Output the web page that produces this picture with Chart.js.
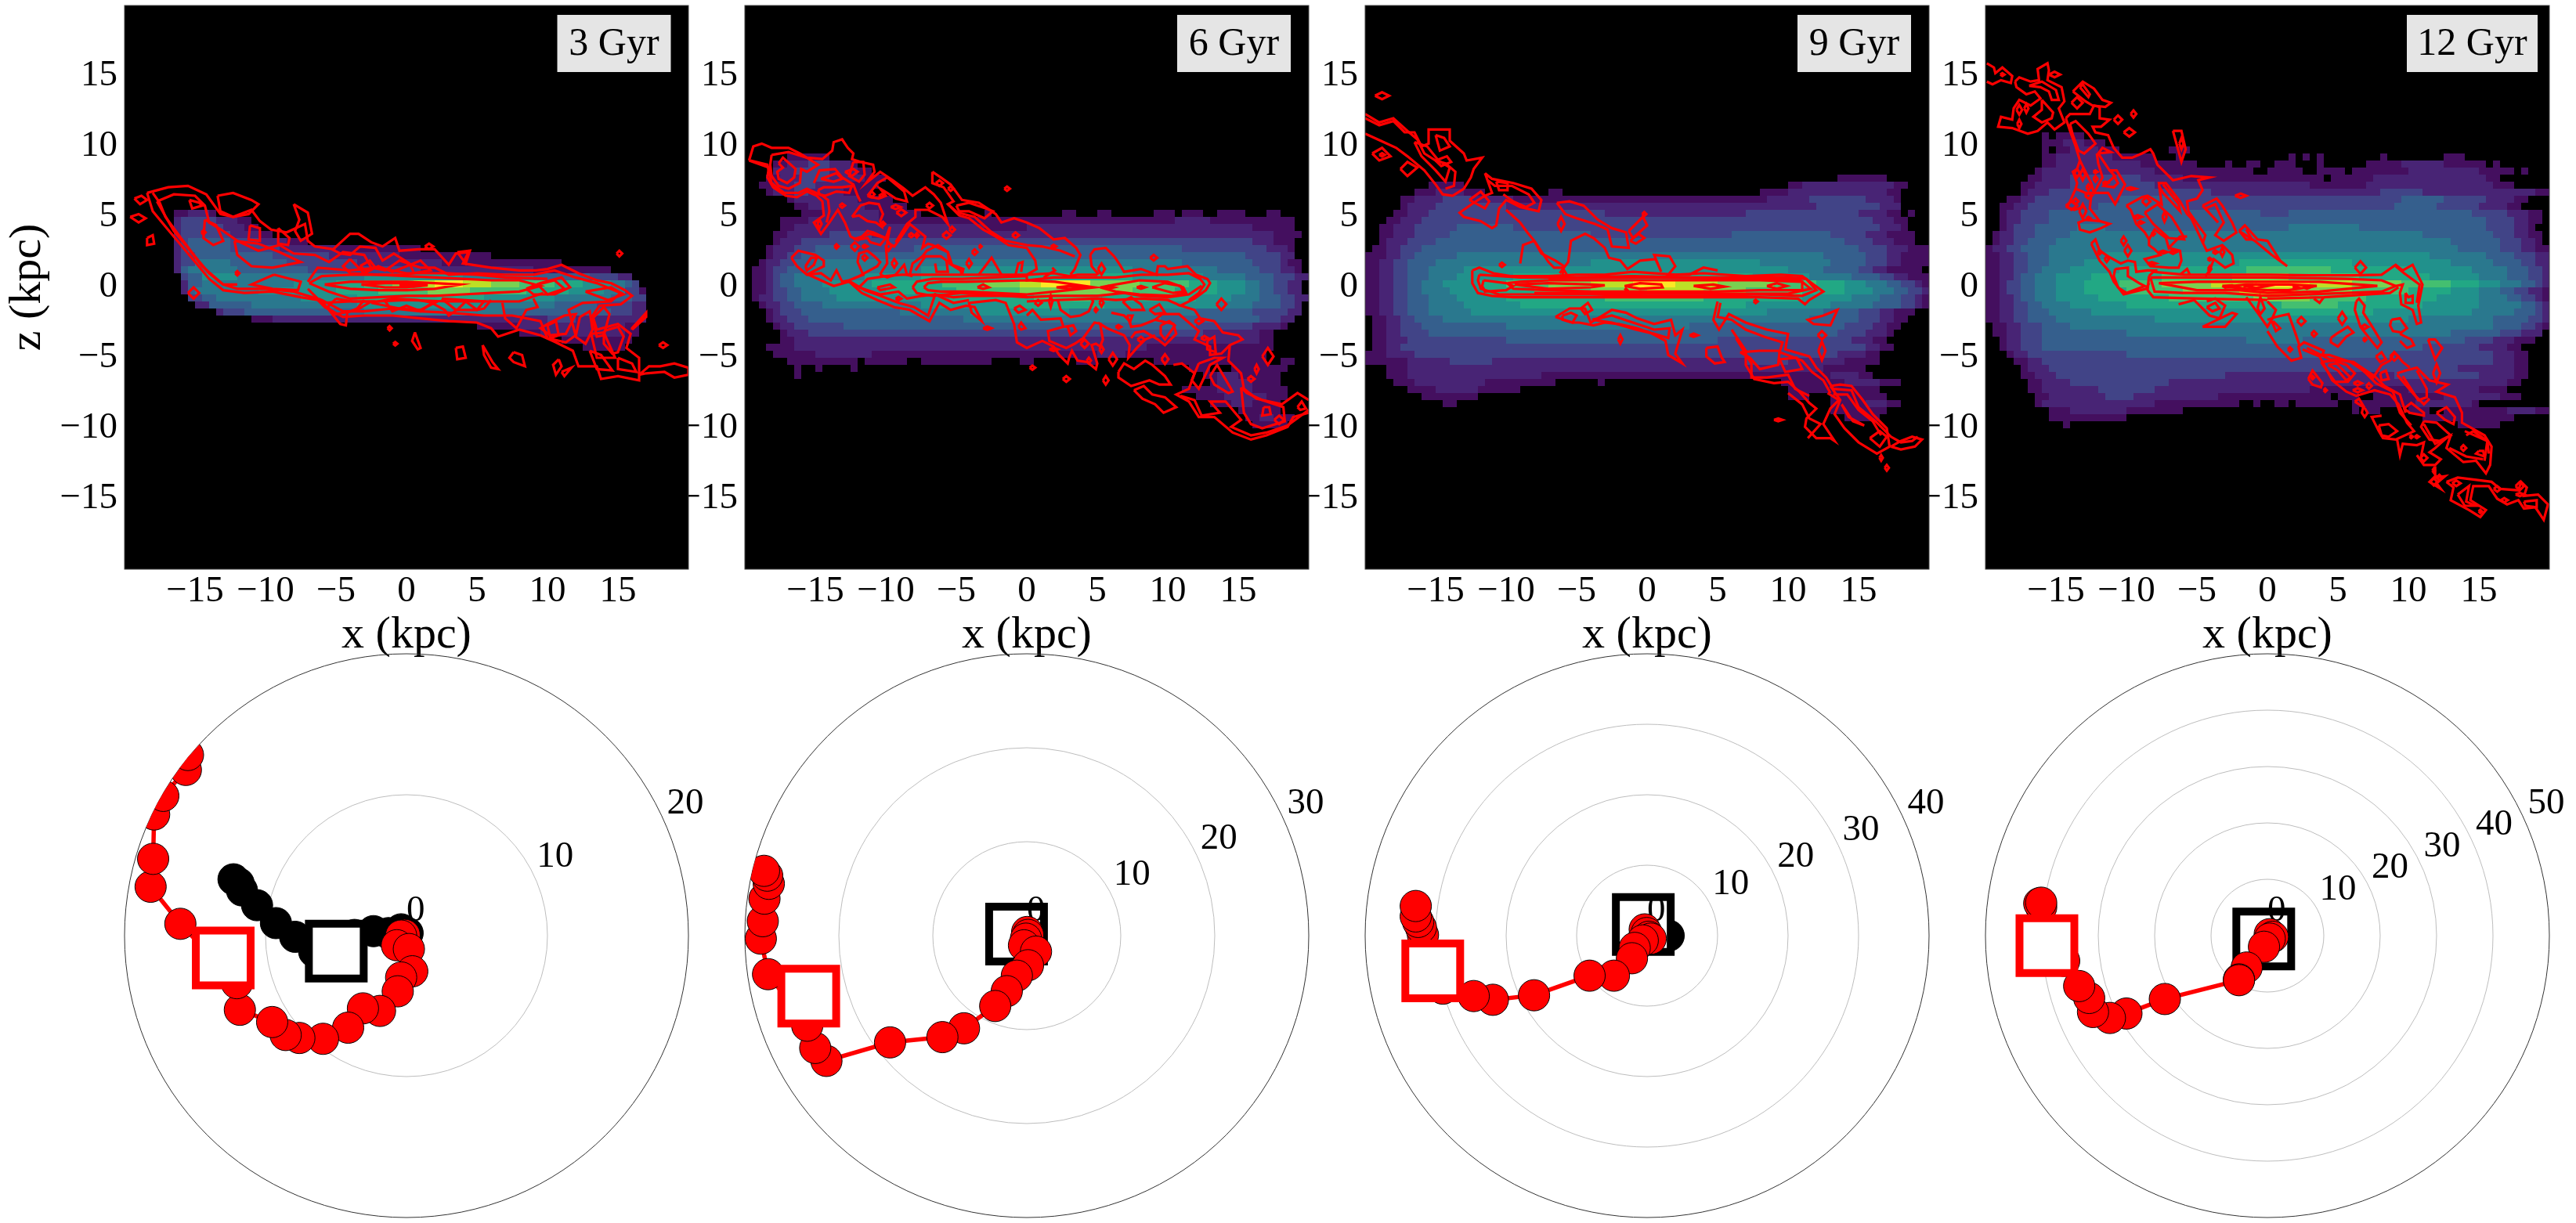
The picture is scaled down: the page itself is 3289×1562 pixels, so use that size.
<!DOCTYPE html>
<html>
<head>
<meta charset="utf-8">
<script src="https://cdn.jsdelivr.net/npm/chart.js@4"></script>
<style>
  html, body { margin: 0; padding: 0; background: #fff; overflow: hidden; width: 3289px; height: 1562px; }
  canvas { position: absolute; }
</style>
</head>
<body>
<script>
// tick labels
var xTicks = [-15, -10, -5, 0, 5, 10, 15];
var zTicks = [-15, -10, -5, 0, 5, 10, 15];
var panelNames = ["3 Gyr", "6 Gyr", "9 Gyr", "12 Gyr"];
var rMaxes = [20, 30, 40, 50];

// density maps, one string per 0.5 kpc row, "first column|level*count ..." (column 0 is x = -20)
var heatTop3 = 5.5;
var heat3 = [
  "7|1*2 2*3 1*1",
  "7|2*1 3*5 2*3 1*2",
  "7|2*1 3*6 2*3 1*2",
  "7|2*1 3*7 2*4 1*2",
  "7|2*1 3*1 4*6 3*4 2*4 1*3",
  "7|2*1 3*1 4*6 3*7 2*8 1*12",
  "7|2*1 3*2 4*11 3*8 2*10 1*13",
  "7|2*1 3*2 5*5 4*8 3*10 2*12 1*17",
  "7|2*1 4*1 5*7 4*10 3*16 2*16 1*11",
  "8|3*1 4*2 6*5 5*18 6*14 5*10 4*8 3*4 2*2",
  "8|2*1 4*2 5*13 6*6 7*4 8*4 9*3 a*3 b*4 a*4 9*4 8*5 7*4 6*4 5*2 4*1 3*1",
  "8|2*1 4*1 5*9 6*11 7*6 8*7 9*6 8*8 7*6 6*5 5*3 3*2 1*1",
  "9|3*2 4*2 5*12 6*8 7*18 6*10 5*8 4*3 3*2",
  "10|2*2 4*6 5*15 6*18 5*10 4*6 3*5 2*2",
  "13|2*1 3*3 4*17 5*20 4*15 3*3 2*2",
  "18|1*3 2*8 2*31 3*4 2*10",
  "50|1*6 2*15 1*2",
  "56|1*3 2*12 1*2",
  "62|1*10",
  "65|1*6"
];

var heatTop6 = 9.5;
var heat6 = [
  "6|1*6",
  "4|1*2 2*3 3*3 2*3 1*1",
  "4|2*3 3*5 2*4 1*2",
  "3|1*2 2*3 3*4 2*5 1*3",
  "2|1*2 2*3 3*3 2*5 1*4",
  "3|1*1 2*3 3*2 2*5 1*4",
  "6|1*1 2*9 1*5",
  "7|1*2 2*8 1*6",
  "8|1*3 2*8 1*6 0*9 1*1 0*10 1*2 0*3 1*2 0*6 1*3 0*1 1*3 0*2 1*4 0*3 1*2",
  "5|1*4 2*10 1*30 1*12 2*5 1*12",
  "5|1*2 2*27 1*6 2*32 1*6",
  "4|1*2 2*6 3*6 2*34 2*23 1*4",
  "4|1*1 2*3 3*64 2*3 1*3",
  "3|1*1 2*3 3*3 4*6 3*8 4*38 3*12 2*3 1*1",
  "3|1*1 2*2 3*2 4*63 3*5 2*2",
  "2|1*1 2*2 3*2 4*3 5*52 4*10 3*4 2*1 1*2",
  "1|1*2 2*1 3*2 4*3 5*16 6*30 5*12 4*6 3*3 2*2 1*1",
  "1|1*2 2*1 3*1 4*2 5*10 6*8 7*30 6*10 5*6 4*4 3*3 2*2",
  "1|1*2 2*1 3*1 4*2 5*4 6*7 7*10 8*6 9*5 a*3 b*7 9*7 8*7 7*4 6*4 5*2 4*2 3*2 2*2",
  "1|1*2 2*1 3*2 4*2 5*4 6*8 7*10 8*9 9*10 9*6 8*6 7*6 6*4 5*2 4*2 3*2 2*2",
  "1|1*1 2*2 3*2 4*2 5*5 6*16 7*12 8*8 7*15 6*5 5*4 4*3 3*2 2*2",
  "2|1*1 2*2 3*2 4*4 5*14 6*12 7*14 6*16 5*5 4*4 3*2 2*1",
  "3|1*1 2*1 3*3 4*14 5*10 6*14 5*18 4*8 3*5 2*2",
  "3|1*1 2*2 3*3 4*22 5*28 4*14 3*3 2*2",
  "4|1*1 2*2 3*7 4*50 3*8 2*4 1*1",
  "5|1*1 2*3 3*56 2*8 1*2",
  "5|1*2 2*66 1*2",
  "3|1*4 2*50 1*18",
  "4|1*6 2*8 1*32 2*4 1*20",
  "6|1*10 0*1 1*6 0*2 1*10 0*4 1*2 0*6 1*3 0*8 1*16 0*2 1*2",
  "7|1*1 0*2 1*1 0*4 1*1 0*47 1*3 0*3 1*8",
  "7|1*1 0*57 1*2 2*3 1*6",
  "66|1*1 2*5 1*4",
  "62|1*5 2*5 1*5",
  "64|1*4 2*6 1*3",
  "66|1*3 2*3 1*4",
  "70|1*6",
  "71|1*2 2*2 1*3",
  "72|1*5"
];

var heatTop9 = 8;
var heat9 = [
  "67|1*7",
  "9|1*5 0*46 1*2 2*13 1*2",
  "7|1*3 2*4 1*3 0*9 1*2 0*28 1*4 2*14 1*2",
  "5|1*2 2*4 3*4 2*6 1*36 2*6 3*8 2*4 1*1",
  "5|1*1 2*4 3*10 2*36 2*8 3*9 2*3",
  "4|1*2 2*3 3*25 2*20 3*16 2*4 1*2 0*1 1*1",
  "3|1*2 2*3 3*64 2*3 1*2",
  "2|1*2 2*3 3*6 4*8 3*52 2*3 1*1",
  "2|1*2 2*3 3*5 4*20 3*20 4*14 3*5 2*3 1*4",
  "2|1*1 2*3 3*4 4*58 3*4 2*3 1*3",
  "1|1*2 2*2 3*3 4*62 3*4 2*3 1*3",
  "0|1*3 2*2 3*2 4*6 5*52 4*6 3*3 2*2 1*4",
  "0|1*2 2*2 3*2 4*4 5*22 6*24 5*10 4*5 3*3 2*2 1*4",
  "0|1*2 2*2 3*2 4*3 5*5 6*46 5*5 4*5 3*2 2*2 1*5",
  "0|1*2 2*2 3*2 4*3 5*4 6*8 7*34 6*8 5*6 4*4 3*2 2*2 1*3",
  "0|1*2 2*2 3*2 4*2 5*3 6*5 7*4 8*6 9*6 a*6 b*6 a*6 9*8 8*6 7*4 6*3 5*3 4*2 3*2 2*1 1*1",
  "0|1*2 2*2 3*2 4*2 5*4 6*5 7*7 8*8 9*8 a*8 9*6 8*8 7*6 6*4 5*3 4*2 3*2 2*1",
  "0|1*2 2*2 3*2 4*3 5*4 6*7 7*14 8*14 7*14 6*7 5*4 4*3 3*2 2*1 1*1",
  "0|1*2 2*2 3*2 4*3 5*5 6*8 7*32 6*12 5*6 4*4 3*2 2*1 1*1",
  "0|1*2 2*2 3*2 4*3 5*6 6*42 5*8 4*5 3*3 2*2 1*3",
  "1|1*2 2*2 3*2 4*4 5*52 4*7 3*3 2*2 1*2",
  "1|1*2 2*2 3*3 4*12 5*26 4*22 3*4 2*2 1*2",
  "1|1*2 2*2 3*4 4*58 3*4 2*3 1*1",
  "1|1*2 2*3 3*14 4*30 3*19 2*3 1*2",
  "1|1*2 2*2 3*66 2*2 1*2",
  "0|1*3 2*4 3*60 2*4 1*2",
  "0|1*6 2*6 3*6 2*36 3*6 2*8 1*5",
  "3|1*3 2*59 1*6",
  "3|1*3 2*19 1*41 2*4 1*2",
  "4|1*3 2*10 1*10 0*6 1*1 0*25 1*9 2*5 1*3",
  "6|1*4 2*6 1*6 0*38 1*13",
  "8|1*8 0*44 1*3 0*3 1*8",
  "11|1*2 0*53 1*5 2*3 1*2",
  "66|1*8",
  "68|1*5"
];

var heatTop12 = 11;
var heat12 = [
  "8|1*1 0*1 1*4",
  "8|1*3 2*3 1*3",
  "8|1*1 0*1 1*2 2*4 1*3 0*7 1*3",
  "8|1*2 2*8 1*6 0*3 1*1 0*15 1*1 0*1 1*1 0*1 1*1 0*8 1*1 0*8 1*3",
  "8|1*2 2*12 1*8 0*4 1*1 0*2 1*2 0*2 1*3 0*3 1*1 0*6 1*5 2*6 1*6 0*1 1*1",
  "7|1*1 2*16 1*14 0*2 1*5 0*2 1*4 0*1 1*8 2*10 1*5 0*1 1*1",
  "6|1*2 2*4 3*10 2*6 1*20 0*1 1*6 2*16 1*2",
  "5|1*2 2*5 3*12 2*22 1*8 2*18 1*3",
  "5|1*1 2*3 3*23 2*24 3*6 2*16 1*3",
  "3|1*2 2*2 3*12 4*8 3*32 4*6 3*6 2*4 1*2",
  "2|1*2 2*2 3*10 4*12 3*30 4*6 3*6 2*4 1*2",
  "2|1*1 2*2 3*4 4*30 3*4 4*26 3*5 2*3 1*2",
  "2|1*1 2*2 3*4 4*62 3*4 2*2 1*2",
  "2|1*1 2*1 3*3 4*6 5*4 4*26 5*10 4*18 3*4 2*2 1*1",
  "1|1*1 2*2 3*3 4*5 5*50 4*10 3*3 2*2 1*2",
  "1|1*1 2*2 3*2 4*4 5*56 4*7 3*3 2*2 1*1",
  "0|1*1 2*2 3*2 4*4 5*58 4*6 3*3 2*2 1*2",
  "0|1*2 2*2 3*2 4*3 5*8 6*46 5*8 4*4 3*3 2*2",
  "0|1*2 2*2 3*2 4*3 5*5 6*22 7*16 6*14 5*6 4*4 3*2 2*2",
  "0|1*2 2*2 3*2 4*2 5*4 6*7 7*18 8*12 7*12 6*8 5*5 4*3 3*2 2*1",
  "0|1*2 2*2 3*1 4*2 5*3 6*5 7*10 8*10 9*8 8*10 7*10 6*7 5*4 4*3 3*2 2*1",
  "0|1*2 2*1 3*2 4*2 5*3 6*4 7*5 8*6 9*7 a*6 b*8 a*6 9*7 8*7 7*4 6*3 5*3 4*2 3*1 2*1",
  "0|1*2 2*1 3*2 4*2 5*3 6*4 7*6 8*8 9*8 a*8 9*8 8*8 7*6 6*4 5*3 4*2 3*2 2*2 1*1",
  "0|1*2 2*2 3*1 4*2 5*3 6*6 7*10 8*12 9*8 8*8 7*10 6*6 5*4 4*2 3*2 2*1 1*1",
  "0|1*2 2*2 3*2 4*2 5*4 6*8 7*22 8*8 7*12 6*8 5*6 4*2 3*1 2*1",
  "0|1*2 2*2 3*2 4*3 5*6 6*26 7*14 6*14 5*6 4*3 3*1 2*1",
  "0|1*2 2*2 3*2 4*4 5*14 6*36 5*12 4*5 3*2 2*1",
  "1|1*2 2*2 3*3 4*4 5*60 4*4 3*2 2*1 1*1",
  "1|1*2 2*2 3*3 4*12 5*46 4*7 3*3 2*3",
  "2|1*1 2*2 3*3 4*29 5*8 4*23 3*4 2*3 1*3",
  "2|1*1 2*2 3*3 4*54 3*8 2*4 1*2",
  "3|1*1 2*2 3*14 4*38 3*14 2*3 1*2",
  "4|1*2 2*2 3*64 2*3 1*2",
  "5|1*1 2*3 3*58 2*8 1*2",
  "5|1*2 2*3 3*24 2*24 3*12 2*5 1*2",
  "6|1*2 2*4 3*14 2*48 1*2",
  "6|1*2 2*8 3*8 2*22 1*14 2*10 1*4",
  "7|1*2 2*8 3*4 2*12 1*16 0*1 1*3 0*2 1*10 2*8 1*3",
  "7|1*1 2*16 1*12 0*2 1*1 0*2 1*2 0*1 1*6 0*2 1*9 2*8 1*1",
  "9|1*3 2*8 1*8 0*24 1*1 0*1 1*2 0*4 1*3 0*2 1*9 2*4 1*2",
  "9|1*11 0*42 1*13",
  "11|1*1 0*55 1*6"
];

// contour traces in kpc, flat x,z lists
var contour3 = [
  [-18.4,6.7,-16.9,7.1,-15.5,7.2,-14.2,6.6,-13.7,5.9,-13.2,5.2,-12.3,5,-11,5.5,-10.4,4.7,-9.6,4.1,-8.5,3.9,-7.2,4.5,-7,3.3,-6.5,2.9,-5.2,2.7,-4,3.8,-3.4,3.8,-2.5,3.2,-1.7,2.9,-.8,3.5,-.5,2.6,.9,2.7,2,2.7,3,1.6,3.5,2.4,4.4,2.5,4,1.7,6,1.4,8,1.2,9.2,1.2,10,1.3,11,1.6,12.2,1,13.5,.5,14.5,.3,15.5,-.2,16,-.6,15.2,-1.2,13.7,-1.3,13.2,-2,13.5,-3,15,-2.6,15.9,-3.3,15.6,-4.3,16.5,-5,16.5,-6.6,15,-6.3,13.8,-6.5,13.5,-5.6,12.2,-5.6,11.8,-4.5,10.6,-3.9,9.5,-3.4,8,-3,6.5,-3.5,6,-2.9,5,-2.5,3,-2.4,1,-2.2,-1,-2,-3,-2,-4.5,-2.1,-5.8,-1.4,-6.3,-.9,-7.5,-.7,-9.5,-.3,-11.5,-.4,-13,-.2,-14,.6,-15,1.8,-16,3,-17,4.2,-18,5.4,-18.4,6.7],
  [-17.7,6.1,-16.5,6.6,-15,6.5,-14.3,5.8,-14,4.6,-13,4,-12,3.3,-10.5,2.6,-9,3,-8,2.4,-6.5,2.3,-5.5,1.8,-4.5,2.5,-3,2.3,-2.5,1.4,-1.5,1.2,-.5,1.9,1,1.4,2,1.4,3,.9,5,1,7,.9,9,.9,10.5,1.2,12,.7,13.5,.3,15.2,-.4,14.5,-1,12.5,-1.1,11.5,-1.6,12,-3.4,11.3,-3.9,10,-3.6,9.5,-2.4,7.5,-2,5.5,-2,3,-1.8,1,-1.7,-1,-1.5,-3,-1.7,-4.5,-1.7,-6,-.9,-8,-.3,-10,-.1,-12,-.1,-13,.2,-14.5,1.5,-15.5,2.8,-16.5,4,-17.7,6.1],
  [-18,6.7,-17.5,6,-17.1,5,-16,3.5,-15,2.2,-14,1,-13,.2,-12,.2],
  [-6.9,.3,-6,.8,-4,.9,-2,.9,0,.8,2,.7,4,.6,6,.5,8,.5,9.5,.1,8,-.3,6,-.4,4,-.5,2,-.6,0,-.6,-2,-.7,-4,-.8,-5.5,-.3,-6.9,.3],
  [-7,.4,-6.3,1.4,-4,1.2,-2,1.4,0,1,3,1,5,.9,7,.7,10,.6],
  [-7,-.1,-6,-1.1,-4,-1,-2,-1,0,-.9,3,-1,6,-1,8,-1,9.7,-.4],
  [-5.8,.2,-4,.4,-2,.4,0,.4,2,.3,3.8,.2,2,-.1,0,-.2,-2,-.2,-4,-.1,-5.8,.2],
  [-3.2,.2,-1.5,.3,0,.3,1.5,.2,0,0,-1.5,0,-3.2,.2],
  [-.5,.15,.5,.2,1.5,.15,.5,.05,-.5,.15],
  [-13.4,6.5,-12.3,6.7,-11,6.2,-10.5,5.9,-11.2,5.2,-12.3,5,-13.2,5.4,-13.4,6.5],
  [-19.3,6.3,-18.8,6.5,-18.4,6.2,-18.9,5.9,-19.3,6.3],
  [-19.6,5,-19,5.2,-18.5,4.9,-19,4.6,-19.6,5],
  [-18.4,3.5,-18,3.7,-17.9,3.1,-18.4,3,-18.4,3.5],
  [-8,5.9,-7,5.3,-6.7,3.8,-7.5,3.3,-7.9,4,-7.6,4.8,-8,5.9],
  [-14.3,4.8,-13.5,4.4,-13,3.3,-13.7,3,-14.4,3.5,-14.3,4.8],
  [-15.4,6.2,-14.7,6,-14.5,5.8,-15.2,5.6,-15.4,6.2],
  [-11.1,4.4,-10.4,4.2,-10.4,3.3,-11.2,3.4,-11.1,4.4],
  [-9.1,4.2,-8.3,3.5,-8.4,3,-9.1,3.1,-9.1,4.2],
  [-12.2,3.3,-10.5,3.1,-9,2.5,-7.5,1.8,-9.5,1.4,-11,1.5,-12,2.3,-12.2,3.3],
  [-9.4,.9,-7.5,.4,-7.7,-.2,-9.5,-.1,-11,.2,-9.4,.9],
  [-5.3,2.7,-4.7,2.4,-4,2.3,-3.3,2.9,-2.2,2.8,-1.7,1.9,-.9,2.4,.2,1.7,.5,1.1],
  [-3.3,1.5,-2.6,1.9,-2.2,1.4,-2.9,1.2,-3.3,1.5],
  [-5,-.8,-3.8,-1,-2.5,-1,-3.5,-1.6,-5,-1.9,-5.6,-1.4,-5,-.8],
  [-6.2,-.8,-5.5,-1.6,-4.7,-2.6,-4.3,-2.7,-4.2,-1.8,-3.5,-1.5,-3,-.9],
  [-1.5,-1,-1,-1.7,0,-1.3,1,-1.7,1.8,-1.1,2.7,-1.6,3,-2,3.7,-1.5,4.2,-1,5,-1.6,5.5,-1.5,6,-.9],
  [6.8,-1.1,7,-2.2,7.8,-2.9,8.5,-1.6,9.3,-1.4,9,-.8],
  [2.5,-.8,4,-.9,5.5,-1,5,-1.6,3.5,-1.6,2.5,-.8],
  [9.3,.2,10.5,.5,11.2,-.1,10,-.5,9.3,.2],
  [8.5,-.1,9.5,.3,11,.7,11.6,0,10.5,-.5,9,-.5,8.5,-.1],
  [12.7,-.3,14.5,0,15.4,-.5,14.3,-.9,12.7,-.3],
  [12.3,-2.1,13,-1.7,13.2,-3,12.7,-4,12,-3.5,12.3,-2.1],
  [13.1,-3.3,13.5,-5,14.8,-5,14,-3.2,13.1,-3.3],
  [10,-2.7,10.6,-2.4,10.8,-3.4,10.2,-3.6,10,-2.7],
  [16.5,-6.2,17.2,-5.6,18,-5.6,19,-5.4,20,-5.7,20,-6.2,19,-6.4,18.3,-6,17,-6.1,16.5,-6.2],
  [.6,-3.2,1,-4.3,.8,-4.4,.4,-3.8,.6,-3.2],
  [3.5,-4.3,4,-4.2,4.2,-5,3.6,-5.1,3.5,-4.3],
  [5.4,-4.1,6.1,-5.3,6.5,-5.8,6,-5.7,5.5,-4.8,5.4,-4.1],
  [7.6,-4.6,8.2,-4.8,8.4,-5.6,7.6,-5.3,7.3,-5,7.6,-4.6],
  [10.8,-5.1,11,-5.6,10.6,-6.2,10.4,-5.5,10.8,-5.1],
  [11,-6,11.7,-5.7,11.2,-6.3,11,-6],
  [16,-3,17,-2.1,17,-1.8,16,-2.9,16,-3],
  [3.6,2.5,4.5,2.6,4.2,1.7,3.6,2.5],
  [13.2,-2.2,14,-1.4,14.4,-1.9,14,-3.4,13.5,-3.5,13.2,-2.2],
  [10.2,-2.5,11.2,-2,12,-1.9,11.3,-3.3,10.2,-3.4,9.5,-2.9,10.2,-2.5],
  [14,-3.1,15,-2.8,15.4,-3.5,15,-4.6,14.6,-4.7,14,-4,14,-3.1],
  [13,-4.5,13.8,-4.8,14.6,-5.9,13.5,-5.8,13,-4.5],
  [15,-5,16,-5.4,16.3,-6,15,-5.8,15,-5],
  [-4,2,-3,1,-2,1.5,-1,1.1,1,1.9,1.7,1.2,-.2,.9,-2,.9,-4,1,-4.5,1.5,-4,2],
  [-2.5,-1.1,-1,-.8,.8,-.9,2,-1.1,1,-1.6,-.5,-1.5,-2.5,-1.1]
];
// small closed rings as x, z, half width, half height
var spots3 = [[-.8,-4,.15,.12],[-1.2,-2.9,.15,.15],[1.6,2.9,.3,.2],[15.1,2.4,.2,.2],[18.2,-4.1,.3,.2],[-15.1,-.4,.4,.4],[-12,1,.15,.15],[-14.4,3.9,.15,.15]];

var contour6 = [
  [-19.7,9,-19.4,10,-18.8,10.2,-18.1,9.9,-16.9,9.9,-16.1,9.5,-15.6,9.2,-14.5,9.1,-13.8,9.7,-13.7,10.3,-13.1,10.5,-12.7,9.9,-12.3,9.5,-12.4,9.1,-11.8,8.9,-10.9,8.7,-10.8,8.2,-11.4,7.4,-10.4,8.2,-9.5,7.6,-8.7,7,-8.1,6.5,-7.2,7.1,-6.6,6.6,-6.1,6,-5.6,4.5,-6,5,-7,5.5,-7.9,5.5,-7.9,5,-8.5,4.5,-9.3,3.2],
  [-6.7,8.2,-6.1,7.8,-5.4,7.3,-4.6,6.2,-3.4,6,-2.8,5.6,-2.2,5.2,-1.8,4.6,-.9,4.9,0,4.6,.9,4.2,1.9,3.4,2.7,3.5,3.5,2.8,3.8,2.3,3.4,1.3,3.1,.9],
  [-6.7,8.2,-6.7,7.4,-5.9,7.1,-5.2,6.1,-5.6,5.9,-4.8,5.1,-4.1,4.9,-3.1,4.1,-2.2,3.6,-1.3,3,0,2.8,.6,1.9,.7,1.3,0,.9],
  [-5.6,5.9,-4.9,5.3,-3.7,5,-2.6,4,-1.5,3.3,0,3,1.1,2.9,2.4,2.6,3.4,2.2],
  [-5,5.8,-4.1,6,-2.9,5.6,-2.4,5.4,-3,4.9,-4.1,5.4,-4.8,5.4,-5,5.8],
  [-18.1,9.4,-16.9,9.6,-15.6,9.2,-14.8,8.7,-15.6,8.2,-16,8.4,-16.1,7.4,-16.9,7,-17.6,7.2,-18.1,7.9,-18.2,8.7,-18.1,9.4],
  [-17.6,8.8,-17.3,9.2,-16.4,8.4,-16.5,7.8,-17,7.4,-17.6,7.7,-17.7,8.2,-17.3,8.5,-17.6,8.8],
  [-19.7,9,-18.3,8.5,-18.4,7.8,-18,7.1,-17.1,6.5,-16.3,6.4,-15.6,6.8,-14.9,6.5,-14.5,6.1,-14.4,5.1,-15.1,4.6,-14.6,3.8,-14,4.6,-13.4,5.5,-12.9,4.6,-12.5,3.6,-11.9,3.3],
  [-19.6,9,-18.4,8.7,-18.1,7.4,-17.2,6.7,-16.2,6.7,-15.6,7,-14.5,6.5,-14.1,6.2,-14,5.4,-14.2,4.6],
  [-14.8,6.9,-14.4,7.1,-13.1,7.1,-12.4,7.2,-12.6,6.7,-13.5,6.8,-14.3,6.5,-14.7,6.6,-14.8,6.9],
  [-15.1,7.4,-14.7,8.3,-13.6,8.4,-13.1,7.8,-12.3,7.3,-12,6.5,-11.8,6.1],
  [-14.6,7.7,-13.5,8.1,-13.1,7.7,-13.7,7.5,-14.6,7.7],
  [-12.9,8.2,-12.3,8.4,-12,8.2,-12.4,7.9,-12.9,8.2],
  [-12.3,8.9,-11.6,8.9,-11.5,8,-11.9,7.5,-12.6,7.9,-12.3,8.9],
  [-11.3,6.5,-10.9,7,-10.6,7.4,-9.9,7.8,-8.7,6.8,-8.5,6.1,-9.3,6.3,-9.9,6.7,-10.4,7,-10,6.5,-10.5,6.3,-11.1,6.4,-11.3,6.5],
  [-12.4,5,-11.8,5.8,-11.2,6,-10.5,5.9,-10.2,5.2,-10.4,4.7,-10.3,4.3,-10.7,4.6,-11.3,4.7,-11.9,5.1,-12.4,5],
  [-12.3,3.4,-11.1,3.8,-10,3.5,-9.7,4.3,-9.9,3.2,-9.4,2.9,-9.1,3.3,-8.3,4.5,-7.2,3.6,-7.4,2.8,-7,3.1,-6.7,3,-5.6,2.5,-5.5,1.7,-4.7,1.2,-4.6,.9],
  [-11.9,3.4,-11.3,4,-10.9,3.9,-10,3.5,-10.4,3,-11.1,3.2,-11.3,3.5,-11.9,3.4],
  [-12.6,.5,-11.9,.8,-10.6,1.5,-10.4,1.8,-10.8,2.2,-11.3,2.6,-11.9,2.4,-12,1.8,-11.7,1.1,-11.6,.9,-12.6,.5],
  [-10.4,.9,-9.9,.7,-9.3,.9,-8.7,1.6,-8.5,.9,-8.1,.8],
  [-10,3,-9.9,1.7,-10.3,1.1,-10.4,.9],
  [-8.3,.9,-8.1,1.7,-7.4,2.2,-7.1,2.6,-6.3,3,-5.6,2.5,-5.3,1.6,-4.5,1.3,-4.6,.9],
  [-7.9,1.2,-7.2,2.2,-6.7,2.2,-6.1,2.2,-5.7,1.9,-5.6,1.1,-6.4,1.1,-6.5,1.7],
  [-3.4,.9,-2.5,2.1,-1.8,.9],
  [-.8,.9,-.6,1.7,-.3,1.8,-.4,1.1],
  [-16.7,2.1,-16.2,2.6,-15,2.3,-14.4,1.9,-14.4,1.5,-15.6,.9,-16.3,1.5,-16.7,2.1],
  [-15.7,1.5,-15.3,2.1,-14.9,2.1,-15.1,1.6,-15.6,1.2,-15.7,1.5],
  [-15.6,.9,-14.6,1,-13.9,.5,-13.5,1.2,-13.1,.4,-12.6,.5],
  [-15.5,.9,-13.7,.1,-12.6,.4,-11.7,-.4,-10.6,-.9,-9.4,-1.4,-8.3,-1.6,-6.9,-2.4,-6.2,-1.1,-5.4,-1.6,-4.3,-1.3,-3.7,-1.4,-3.2,-2.4,-3.9,-1.8,-4.1,-1.1,-2.2,-.9,-1.5,-1.1,-.9,-2.6,-.7,-3.9,0,-4.3,1.1,-3.8,1.9,-4.2,2.3,-4.8,2.9,-5.4,3,-5,3.2,-4.5,3.6,-5.2,4.3,-5.3,4.9,-5.8,5,-5.4,4.6,-4.1,4.9,-4,5.2,-4.2,5.4,-3.7,5.2,-2.6,5.7,-2.9,6.9,-3.4,7.3,-4.1,7.2,-5,7.8,-4.3,8.4,-3.7,9.1,-3.4],
  [-12.5,.4,-11.5,-.2,-10.4,-.6,-9.1,-1.1,-8,-1.4,-7,-2,-6.7,-1.1,-6.5,-.5,-5.2,-1.1,-4.1,-.9],
  [-11.9,0,-11.3,.6,-10,.8,-8.9,.9,-7,.9,-4.3,.9,0,.9,1.9,1,3,.8,3.6,.9,5,.9],
  [0,-.6,-4.1,-.6,-5.2,-.7,-6.5,-.5,-7.4,-.6,-8.5,-.8,-9.1,-.3,-10.4,-.5,-11.9,0],
  [-8.1,0,-7.8,.4,-6.7,.6,-4.6,.6,0,.8,0,.5,1.9,.7,5,.7,6.3,.7,8.1,.9,10,.9,11.5,1,12.3,.6,12.6,.2,12.2,-.4,11.5,-.9],
  [-8.1,0,-7.8,-.4,-6.7,-.6,-4.6,-.4,0,-.7,1.9,-.6,5,-.6,6.9,-.4,8.1,-.6,10,-.7,11.5,-.5,12.4,.1],
  [-7.3,0,-7,.3,-6.1,.4,-4.3,.4,0,.5,2,.4,4.8,0,2,-.3,0,-.5,-4.3,-.3,-6.1,-.3,-7,-.2,-7.3,0],
  [-10.6,0,-9.7,.2,-9.4,0,-10.4,-.2,-10.6,0],
  [-3.5,0,-3.1,.2,-2.7,0,-3.1,-.1,-3.5,0],
  [2.1,0,3.1,.1,4.4,0,3.1,-.1,2.1,0],
  [5.5,0,5.8,.1,6.2,0,5.8,-.1,5.5,0],
  [7.8,0,8.1,.1,8.4,0,8.1,-.1,7.8,0],
  [-.9,-1.5,-.5,-1.3,-.1,-1.6,-.6,-1.8,-.9,-1.5],
  [-.6,-2.8,-.4,-2.5,-.1,-2.9,-.4,-3,-.6,-2.8],
  [4.5,2.3,4.8,2.7,5.6,2.8,6.2,2.2,6.6,1.6,6.9,1.1,8.1,1.3,9.2,.9,9.3,1.5,9.8,1.5,10,1.3,11.4,1.5,12,.9,12.8,.6,13,.3,12.7,-.2,11.9,-.8,10.9,-1.3,11.9,-1.6,12.3,-2.2,13.3,-2.4,13.9,-3.2,15,-3.4,15.3,-3.7,14.4,-4.1,14.3,-5.2,15.2,-6.1,15.4,-7.2,16.3,-7.9,17.2,-8.1,18.1,-8.3,19.2,-7.5,20,-8],
  [4.5,2.3,4.6,1.5,5.1,.9],
  [1.8,1.4,2,1.2,1.2,.7],
  [0,-1,2.2,-.9,5,-.8,6.3,-.9,8.1,-.8,10,-.9,10.9,-1.3],
  [5.2,0,6.3,.2,8,.5,10,.4,11.1,0,11.3,-.4,10.4,-.6,8,-.5,6.3,-.3,5.2,0],
  [8.9,0,9.8,.3,10.9,.1,11.1,-.3,10.4,-.4,8.9,0],
  [2.2,-.9,2.4,-1.6,3.1,-2.1,3.8,-2,4.4,-1.7,4.7,-1,4.6,-.8],
  [0,-2,.4,-1.6,1,-2.3,2.4,-2.2,2.6,-2.8,1.5,-3.1,1.6,-3.8,2.8,-4.3,3.4,-4,4,-3.6,4.8,-2.5,5.3,-2.6],
  [2.7,-2.8,3.3,-2.7,3.5,-3.1,3.1,-3.4,2.9,-2.8],
  [6,-1.8,6.9,-2,7.3,-2.4,7.4,-2.8,8.1,-2.7,9.1,-2.3,10.4,-2.6,10.6,-3.3,9.8,-4.1,9.3,-3.7,8.3,-3.1,7.7,-3.2,7.4,-3.6],
  [9.1,-2.3,9.6,-1.9,10.8,-1.9,12.2,-3.1,11.9,-3.7,13,-4.2,13,-4.8,13.8,-4.7,14.4,-4.1],
  [9.5,-2.7,10.1,-2.4,10.5,-2.7,9.8,-3.7,9.5,-3.3,9.5,-2.7],
  [6.8,-1,7.4,-.7,8.1,-1.2,8.3,-1.6,7.4,-1.6,6.8,-1],
  [8.7,-1.6,9.4,-1.2,9.8,-1.8,9.1,-1.9,8.7,-1.6],
  [7.1,-2,7.5,-2,7.3,-2.5,7.1,-2],
  [6.5,-6,6.9,-5.4,7.6,-5.8,8.4,-5.2,8.9,-5.5,9.8,-6.3,10.2,-6.9,9.4,-6.9,8.7,-6.6,7.4,-7,6.5,-6.4,6.5,-6],
  [7.6,-7.3,8.3,-7,8.9,-7.6,9.8,-7.8,10.6,-8.5,9.7,-8.9,9.1,-8.3,8.2,-7.9,7.6,-7.3],
  [10.4,-5.5,11,-5.4,11.9,-6.1,11.5,-7.2,10.6,-7.6,11.5,-8.1,12.2,-9.2,13.3,-9.2,14.6,-10.3,15.9,-10.8,17,-10.5,18.5,-9.9,18.9,-9.2,20,-8.9],
  [10.9,-7.7,11.9,-8,12.4,-9.1,13.7,-8.9,13,-8.1,14.1,-8.1,15.2,-9.4,14.5,-9.9,15.9,-10.5,17,-10.3,18.5,-9.8,20,-8.7],
  [12.2,-5.4,13.3,-5,13.9,-5,13,-5.5,12.2,-7.2,11.7,-6.6,12.2,-5.4],
  [13,-6.3,13.5,-5.5,14.6,-7.4,14.3,-7.5,13.3,-6.9,13,-6.3],
  [15.2,-7.1,15.6,-7.5,16.7,-8,18.2,-8.5,18.3,-9.5,16.7,-10,15.9,-9.7,15.4,-8.9,15.2,-7.1],
  [16.8,-8.5,17.2,-8.5,17.3,-9,16.7,-9.1,16.8,-8.5],
  [19.2,-8.5,19.5,-8.1,19.8,-8.6,19.4,-8.7,19.2,-8.5],
  [12.8,-3.8,13.3,-3.5,13.4,-4.6,12.8,-4.4,12.8,-3.8]
];
var spots6 = [[-13.5,2.9,.15,.15],[-12.2,2.9,.3,.3],[-11.5,2.9,.2,.12],[-11.5,2.1,.2,.2],[-9.4,1.7,.2,.3],[-8.2,3.7,.2,.15],[-7.8,3.7,.12,.15],[-9.8,2.9,.2,.3],[-5.7,3.7,.3,.25],[-5.3,4.1,.2,.2],[-3.7,2.5,.2,.2],[-3.3,2.9,.1,.1],[-4.1,1.7,.2,.3],[-2.8,-2.9,.3,.12],[-9.1,-.8,.2,.12],[-6.2,7.4,.25,.2],[-5.4,7,.2,.15],[-.8,3.7,.25,.2],[-9.3,5.7,.35,.15],[-8.9,5.3,.35,.25],[-6.9,5.8,.25,.2],[-11,6.6,.2,.2],[-10.3,6.5,.2,.12],[-10.2,4.5,.15,.15],[-13.1,5.8,.2,.15],[-14.7,4.5,.15,.3],[-1.4,7,.2,.15],[-7.8,3.7,.12,.12],
  [9,2.1,.25,.2],[5.3,1.3,.25,.4],[13.8,-1.2,.35,.4],[17.1,-4.9,.4,.6],[16.3,-5.8,.15,.3],[15.9,-6.5,.25,.2],[9.8,-5.1,.25,.35],[6.1,-5.1,.3,.45],[5.6,-6.6,.2,.3],[2.8,-6.5,.25,.2],[.4,-5.7,.2,.15],[4.4,-5.2,.15,.2],[5.3,-4.4,.15,.25],[4.1,-4,.3,.3],[8.1,-3.7,.25,.2],[.8,-1.1,.25,.2],[1.7,-1,.12,.4],[5.3,-1.1,.15,.25],[4.9,-1.6,.12,.15],[12.2,-2.4,.3,.2],[12.6,-3.6,.25,.15],[17.9,-9.4,.35,.3],[1.9,-4.4,.3,.12],[6.5,-2.8,.2,.12],[1.9,2.9,.2,.12]];

var contour9 = [
  [-12.4,1.2,-11.9,1.4,-10.9,1,-9.7,.8,-7,.8,-5,.9,-3,.9,-1,1.1,2,.9,4,1,7,.8,9.5,.9,11,.8,11.8,.2,12.5,-.3,11.5,-.9,11.2,-1.2,10.7,-.8,8,-.7,5,-.7,2,-.7,-1,-.7,-4,-.7,-7,-.7,-9.5,-.7,-11,-.6,-12,-.4,-12.4,.3,-12.4,1.2],
  [-11.9,.9,-9,.7,-5,.7,-1,.8,3,.7,7,.7,10,.7,11.3,.6,12,-.2,11,-.6,8,-.5,4,-.6,0,-.6,-4,-.5,-8,-.5,-10.5,-.5,-11.8,-.1,-12,.5,-11.9,.9],
  [-9.9,.3,-9,.4,-7,.5,-4,.5,-1,.5,2,.5,5,.5,8,.5,11,.4,11,-.2,8,-.2,5,-.3,2,-.3,-1,-.3,-4,-.3,-7,-.2,-9.5,-.1,-9.9,.3],
  [-11.6,.5,-10,.3,-9.5,.1,-10,-.2,-11.5,-.3,-11.7,.1,-11.6,.5],
  [-7,.65,0,.7,8,.6,10.8,.55,11.6,-.1,10,-.45,0,-.45,-8,-.4],
  [-9.4,.2,-7,.3,-4,.2,-3,.15,-4,0,-7,-.1,-9.4,.2],
  [-1.6,.1,-.5,.3,1,.2,1.1,0,-.5,-.1,-1.6,.1],
  [3.3,.1,4.7,.2,5.5,.05,4.5,-.1,3.3,.1],
  [8.5,.1,9.2,.3,9.9,.1,9.2,-.1,8.5,.1],
  [-20,12,-19,11.5,-18,11.8,-17.2,11,-16.5,11,-16,10,-15.5,10.2,-15.5,11.2,-14,11.2,-14,10.4,-13,9.5,-12.8,9,-11.7,9.2,-12.3,8.4,-12.5,7.8,-13,7,-13.8,6.5,-14.5,6.6,-15,7.3,-15.8,8.3,-17,9.3,-17.8,9.9,-18.9,10.4,-20,10.9],
  [-20,12.3,-19,11.7,-18,12,-17,11.1,-16.3,10.5,-15.8,9.5,-15,9,-14.3,8.8,-13.6,8.2,-13.7,7.2,-14.3,7],
  [-16.5,10.3,-15.6,10,-14.8,9,-14,8.5,-14.3,7.5,-15,8.3,-16,9.3,-16.5,10.3],
  [-15,10.8,-14.4,10.6,-14,10,-14.7,9.7,-15,10.8],
  [-15,9,-14.2,9.3,-13.9,8.9,-14.6,8.6,-15,9],
  [-11.5,8.1,-11,7.7,-9.5,7.4,-8.2,7,-7.5,6.2,-7.7,5.4,-9,5.7,-10,6.2,-10.5,5.6,-10.7,4.4,-11,4.2,-11.8,4.7,-13,5,-13.3,5.3,-12.3,6,-11.5,6.5,-11,6.7,-11.5,8.1],
  [-11.3,7.6,-10.8,7.2,-9.6,7.2,-8.4,6.6,-8,6,-8.6,5.7,-9.5,6.1,-10.2,6.6],
  [-12.6,6.2,-11.8,6.8,-11.2,6.1,-11.5,5.6,-12.6,6.2],
  [-10.7,7.5,-9.9,7.4,-9.9,6.9,-10.5,6.9,-10.7,7.5],
  [-10,5.5,-9,4.6,-8.5,3.9,-8,3.3,-7.5,2.4,-6.5,1.9,-5.9,1.5,-6,.9],
  [-9,1.7,-8.8,3,-8,3.3,-7.4,2.4,-7,1.8,-6.6,1.4,-6,1.4,-5.7,.9],
  [-6.4,6,-5.5,6.1,-4.5,5.8,-3.5,4.8,-2.5,4.2,-1.5,3.9,-1.3,2.8,-2.5,2.9,-2.8,4.1,-3.7,4.5,-5,4.9,-5.8,5.2,-6.4,6],
  [-6.2,1,-5.6,1.8,-5.4,3.3,-4.4,3.8,-3.8,3.5,-3,2.8,-2.7,2.1,-1.9,1.9,-1.4,1.3,-.5,1.9,.6,2,1,1.1,.5,2.3,1.6,2.2,2,1.5,1.5,.9,3,.9,4,1.4,5,1.2],
  [-6.5,-2.1,-5.5,-1.5,-4.4,-1.5,-4,-2.5,-3.5,-2.2,-2.5,-1.6,-1.5,-1.8,-.7,-2.2,.5,-2.6,1.7,-2.3,2,-3.4,2.5,-3,2,-4.7,2.5,-5.4,1.5,-4.8,1.3,-3.8,.2,-3.2,-.7,-2.9,-2,-2.6,-3,-2.5,-3.8,-2.7,-4.8,-2.5,-5.3,-2.5,-6.5,-2.1],
  [-3.9,-2.3,-2.5,-2,-1,-2.5,.5,-3,1.6,-2.9,1.5,-3.6,.5,-3.3,-.8,-3,-2.5,-2.5,-3.9,-2.3],
  [5,-1,4.7,-2.3,5.1,-3,5.8,-1.9,7,-2.5,8.5,-3,10,-3.3,9.8,-4.4,11.5,-4.9,12,-5.7,12.7,-6.4,13.2,-7.2,14.5,-7.3,15,-8.5,16.3,-9.6,17.3,-10.6,18,-11,18.8,-10.9,19.2,-10.6],
  [5.2,-1.1,5,-2.1,6,-2.3,7,-3,8.3,-3.5,9.6,-3.9,9.4,-4.6,11,-5.2,11.7,-6,12.5,-6.6,13,-7.5],
  [6,-3,7,-4.5,7,-5.5,7.6,-6.5,9,-6.8,10,-6.7,10.8,-7.4,11.5,-8.2,12,-8.6,11.3,-9.3,11.2,-9.9,12,-10.7,13,-10.7,13.3,-10.9,12.5,-9.7,13,-8.6,13.6,-8,12.8,-7.5],
  [6.3,-3.6,7.4,-5.4,7.4,-6.4,8.5,-6.4,10,-6.2,10.5,-7.2,11.5,-7.7],
  [6.6,-4.6,8,-4.5,9.4,-4.5,9.3,-5.5,8,-5.8,7.3,-5,6.6,-4.6],
  [9.4,-5.1,10.6,-5,11,-5.8,9.8,-6,9.4,-5.1],
  [10,-7.5,11,-8.3,11.5,-9.3,12.3,-9.7,11.4,-10.7],
  [13,-7,13.7,-6.9,14.5,-7,15.3,-8,16,-9,17,-10,17.2,-11.3,16.3,-11.8,15,-11,14,-10,13.3,-9,13.7,-8,13,-7],
  [13.2,-7.6,14.2,-7.6,15,-8.7,16,-9.5,16.6,-10.5],
  [13.8,-8.3,14.6,-9.5,15.4,-9.8,14.3,-9.2,13.8,-8.3],
  [15.8,-10.7,16.5,-10.2,17,-10.6,16.5,-11.3,15.8,-10.7],
  [17.3,-11.3,18,-10.9,18.8,-10.6,19.5,-10.8,19,-11.3,18,-11.5,17.3,-11.3],
  [-19.5,9.5,-18.8,9.9,-18.2,9.3,-19,9,-19.5,9.5],
  [-17.5,8.4,-17,8.9,-16.3,8.5,-17,7.9,-17.5,8.4],
  [-1.3,4,-.3,5,0,4.4,-1,3.5,-1.3,4],
  [-1.2,3.3,-.6,3.8,-.2,3.5,-.8,3.1,-1.2,3.3],
  [12.5,-2,13.5,-1.6,13,-2.7,11.8,-2.6,11.4,-2.3,12.5,-2],
  [4.2,-4.3,5,-4.2,5.3,-5,5.5,-5.3,4.8,-5.4,4.2,-4.9,4.2,-4.3],
  [-6,-2,-5.4,-1.8,-5,-2,-5.3,-2.5,-6,-2.3,-6,-2],
  [-4.7,-1.5,-4.2,-1.1,-3.9,-1.6,-4.4,-1.9,-4.7,-1.5]
];
var spots9 = [[-18.8,13.6,.5,.25],[-6.1,4.5,.25,.5],[-.2,5.2,.15,.15],[12.4,-3.4,.3,.3],[12.4,-4.5,.25,.65],[9.3,-9.4,.3,.1],[17,-12.8,.15,.2],[16.6,-12.1,.12,.2],[-1.9,-3.7,.15,.3],[3.3,-3.4,.3,.12],[-10.3,1.6,.2,.15],[-18.8,9.4,.2,.12],[-1.5,-.2,.1,.1],[7.7,-1,.15,.12]];

var contour12 = [
  [-8.4,.8,-8.1,1.1,-5.9,.9,0,.9,3,.85,6,.85,8.1,.9,9.1,1.6,9.6,1.2,10.3,1.6,11,.2,10.7,-1.3,10.9,-2.5,10.6,-2.6,10.3,-1.6,9.5,-1.2,9.4,-.4,9.6,.2,9.1,.1],
  [0,-.9,-4.8,-.8,-8.1,-.7,-8.5,-.2,-8.4,.8],
  [0,-.8,4,-.7,8.7,-.4,9.3,0],
  [-8.3,.7,-5,.7,-2,.7,0,.7,5.6,.6,8.1,.5,9.1,.1,8.1,-.3,5.6,-.4,0,-.6,-3,-.4,-6,-.4,-8,-.3,-8.3,.7],
  [-7.7,.3,-5,.4,-2,.4,0,.4,3.7,.4,7.8,.1,3.7,-.3,0,-.4,-2,-.2,-5,-.2,-7.7,.3],
  [0,.2,1.5,.2,3.5,.1,1.5,-.2,0,-.2,-1.5,-.1,-3,.05,-1.5,.2,0,.2],
  [-3.2,.1,-2.5,.15,-2.2,.05,-3,-.02,-3.2,.1],
  [-1.7,.1,-.8,.2,0,.1,-.8,-.05,-1.7,.1],
  [9.8,-.4,10,-.7,10.3,-.6,10.3,-1.1,9.8,-1.1,9.8,-.4],
  [9.1,1.5,9.7,1,10.8,.2,10.6,-1.1],
  [-19.9,15.9,-19.4,15.6,-19.3,15.2,-18.8,15.6,-18.1,15,-18.2,14.5,-18.9,14.7,-19.5,14.4,-19.9,14.6],
  [-17.9,14.6,-17.6,14.9,-16.8,14.6,-16.2,14.7,-16.3,15.5,-15.6,15.9,-15.5,15.4,-15.6,14.7,-14.6,14.2,-14.4,13.2,-14.8,12.7,-14.4,11.7,-15.1,11.2,-15.6,11.7,-16.3,11.1,-17,10.9,-18.1,11.3,-19.1,11.4,-18.9,12.1,-18.1,11.9,-18,12.7,-17.6,13.3,-16.8,12.9,-16.1,13.4,-16.5,13.9,-17.1,13.7,-17.8,14.2,-17.9,14.6],
  [-16.9,14.3,-16,14.6,-15,14,-14.8,13.3,-15.3,13.3,-15.5,13.9,-16.1,14.2,-16.9,14.3],
  [-16,13.3,-15.2,12.4,-15.3,12,-16,11.7,-16.6,12.1,-16,12.6,-16,13.3],
  [-13.8,13.9,-13.1,14.6,-12.3,14.1,-11.7,13.3,-11.1,13.1,-11.5,12.8,-12.4,12.9,-12.9,13.2,-13.8,13.9],
  [-13.3,14.2,-13.1,14.4,-12.6,13.7,-12.7,13.5,-13.3,14.2],
  [-14.3,12,-14,12.3,-12.6,12.3,-12.3,12.9,-11.9,12.8,-11.9,12,-11.2,11.9,-11.8,11.4,-12.4,11.4,-12.2,11,-11.3,10.8,-10.9,9.9,-10.3,9.2,-9.6,9.2,-8.9,9.5,-8.3,9.8,-8.1,9.5,-7.8,8.7,-6.7,7.6,-5.4,7.9,-4.1,7.8,-4.9,7.6,-4.6,6.9,-5,6.3,-5.7,6.1,-5.6,5.4,-4.4,3.7,-4.6,3.1],
  [-14.3,12,-14,11.1,-13.6,10,-13.3,9,-13.5,8.4,-13.8,8.2,-13.5,7.4,-13.6,7,-14,6.1,-14.2,5.7,-13.7,5.5,-13.1,5.7],
  [-14,11.6,-13.6,11.8,-12.7,10.9,-12.2,10.2,-13,9.5,-13.4,9.7,-13.8,10.8,-14,11.6],
  [-13.6,7,-12.9,6.7,-12,6.7,-11.3,6.7,-10.8,5.9,-10.1,7.3,-10.7,8.3,-11.1,8.3,-10.6,7.4,-10.9,7.1,-11.6,7.2,-10.8,7.9,-11.2,8.3,-12,9.5,-11.7,9.9,-11.1,9.6,-12,9.5],
  [-13.3,9,-12.9,8.2,-12.5,7.4,-12.3,6.7,-11.7,7.8,-12,8.8,-12.1,9.5],
  [-12.5,6.5,-12.6,5.6,-11.9,4.7,-11.2,4.5,-11.8,4.2,-12.6,3.9,-13.3,4.1,-13.4,4.6,-12.9,4.8,-11.9,4.7],
  [-6.7,11.1,-6.1,11.1,-5.8,9.8,-6.1,8.9,-6.7,11.1],
  [-10,5.8,-8.9,6.4,-8.5,6.5,-7.5,5.9,-7.7,7.4,-7.2,7.4,-6.2,6.1,-5.7,5.2,-5.4,4.9,-4.6,3.2,-4.3,2.6,-3.2,3,-2.5,2.3,-2.4,1.7,-3,1.4,-3.8,2,-4.1,1.2,-4.4,.8],
  [-10,5.8,-9.7,5.5,-9.3,4.5,-8.7,3.9,-8.4,3.4,-8,4.1,-7.2,3.5,-7,2.8,-6.2,3.6,-5.7,3.6],
  [-8.7,5.3,-7.8,5.9,-6.8,5,-6,3.7,-5.9,3.4,-7,3.5,-8.1,4.5,-8.7,5.3],
  [-8.4,3.4,-8.4,3,-8,2.7,-7.6,2.3,-8.7,2,-8.3,1.5,-7,1.4,-6.3,1.4,-6.1,1.9,-6.2,2.6,-7,2.8],
  [-7.4,7.3,-6.3,5.9,-6.2,5.4,-7.4,6.7,-7.7,7.2],
  [-4.6,5.8,-3.6,6.3,-3.2,5.8,-2.5,4.6,-2.2,3.9,-3.1,3.3,-3.7,3.7,-3.1,4.6,-3.7,5.9,-4.4,5.6,-3.5,4.6,-4.6,5.8],
  [-2,4,-1.6,4.4,-.7,3.4,0,3.3,.9,1.9,1.4,1.5,.3,2.3,-.9,3.3,-2,4],
  [-1.5,4.1,-1.1,3.4,-1.5,3.4,-2,4],
  [-12.5,3.1,-12.2,3.4,-11.9,2.6,-11.3,2.2,-10.4,1.7,-9.9,1.9,-9.4,1.8,-9.3,1.1,-8.5,1.2,-7.8,1.2],
  [-12.5,3.1,-11.9,1.9,-11.2,1.1,-10.9,.4,-10.2,-.5,-8.6,-.1,-8.4,.3],
  [-10.8,1.3,-9.9,1.4,-9.9,.8,-9.1,.3,-8.7,.1,-10,-.4,-10.6,0,-10.9,.8,-10.8,1.3],
  [-6.2,.9,-5.7,1.3,-5.5,.9],
  [-6.3,-1.2,-5.2,-.9,-4.1,-2,-3.4,-2.2,-3,-1.3,-3.7,-.8,-4.3,-1],
  [-4.3,-1.4,-3.7,-1.1,-3.4,-1.5,-3.9,-1.7,-4.3,-1.4],
  [-4.6,-2.8,-2.5,-1.8,-2.2,-1.9,-3,-2.8,-4.6,-2.8],
  [-1.5,-.7,-.7,-1.8,0,-2.8,.3,-2.3,.6,-1.6,0,-1],
  [-.7,-1.5,-.5,-.7,-.2,-1.5,-.5,-1.9,-.7,-1.5],
  [3.3,-.8,3.7,-1.1,4,-.7],
  [6.3,-1,6.5,-.8,6.9,-1.3,6.8,-1.8,7.5,-2.9,8.1,-3.9,7.8,-4.3,7.3,-3.7,6.6,-2.8,6.2,-1.6,6.3,-1],
  [4.5,-3.6,4.9,-3.3,5.7,-2.8,6.1,-3.2,5.6,-3.5,5,-4.2,4.5,-3.9,4.5,-3.6],
  [8.8,-2.3,9.4,-2.2,9.9,-2.9,9.5,-3.2,8.9,-3.1,8.7,-2.7,8.8,-2.3],
  [9.4,-3.3,10.2,-3.7,10.4,-4.1,9.9,-4.3,9.4,-3.8],
  [11.4,-3.7,11.9,-3.7,12.4,-4.3,11.9,-5.1,11.4,-3.7],
  [7.7,-4.9,8.1,-4.6,8.4,-5.1,8,-5.3,7.7,-4.9],
  [0,-3.1,.7,-4.2,1.7,-5.2,2.4,-5,2.2,-4.2,2.6,-3.9,4,-4.5,3.9,-4.8,4.4,-4.8,5.9,-5.3,6.5,-5.7,7.5,-6.4,8.1,-5.5,8.7,-5.2,9,-4.6,9.6,-5.3,10.1,-5.7],
  [0,-2.3,.6,-2.1,1.5,-1.9,2,-3.3,2.3,-4.2],
  [.4,-2.4,.9,-2.9,.6,-3.1,.3,-2.4],
  [2.5,-4.4,3.7,-4.9,4.6,-6.6,5.6,-7.4,6.3,-7.7,7.6,-7.3,8.7,-7.6,9.3,-8.3,9.9,-9.6,10.4,-10.2,9.1,-10.8,8.2,-10.7,7.9,-10.2,7.4,-9.2,8.1,-9.1],
  [3.8,-5.3,4.7,-5.2,5.6,-5.5,6.2,-6.1,5.7,-6.7,4.8,-6.7,4.5,-6.3,3.8,-5.3],
  [4.3,-5.5,4.9,-5.4,5.9,-6.4,5.6,-6.6,5,-5.9,4.3,-5.5],
  [2.8,-4.3,4.4,-5.1,6.1,-5.3,7,-6.1,7.7,-6.8,8.9,-7.4,9.4,-8.9,10.2,-9.8],
  [6.1,-5.3,7.6,-6.3,8.3,-7,9.4,-7.6,9.8,-8.9],
  [9.2,-6.1,9.8,-5.9,10.6,-5.7,11.5,-6.6,12.8,-6.9,12,-7.4,13.3,-7.8,13.8,-8.9,13.8,-9.6,15.4,-10.5,15.9,-11.3,15.8,-12.6,15.5,-13.2,14.8,-12.3,13.9,-12.4,12.7,-11.4,13,-10.5,11.9,-11.1,11.1,-9.7],
  [9.6,-6.3,10.7,-8,11.3,-7.8,11.3,-7.2,10.6,-5.9],
  [9.2,-6.2,10.4,-7.6,11.1,-8.3,11.5,-7.9],
  [9.7,-8.6,10.2,-8.2,11.1,-8.9,11.1,-9.1,10.1,-8.9,9.7,-8.6],
  [12,-8.9,12.7,-8.5,13.3,-9.2,13.2,-9.7,12.6,-9.4,12,-8.9],
  [11.1,-9.5,12,-9.6,13,-10.5,12.2,-10.9,11.5,-10.8,10.9,-9.9,11.1,-9.5],
  [14.1,-10.5,14.6,-10.2,15.6,-10.9,15.4,-12.3],
  [14,-10.2,15.6,-10.9,15.7,-11.8],
  [12.9,-11.4,14.1,-12,15.3,-12.2],
  [15,-11.6,15.3,-11.6,15.4,-12,14.8,-11.8,15,-11.6],
  [2.9,-6.5,3.2,-5.9,3.9,-6.8,3.8,-7.1,3.2,-6.9,2.9,-6.5],
  [6.2,-8.1,6.5,-7.9,7.1,-8.9,6.9,-9.2,6.7,-8.9,6.8,-8.5,6.2,-8.1],
  [7.9,-9.8,8.1,-10.5,8.6,-10.6,9.2,-10.2,8.6,-9.7,7.9,-9.8],
  [9.2,-10.8,9.4,-11.9,9.6,-11.1,10.6,-11.2,11.1,-11,10.9,-12],
  [10.6,-11.9,11.1,-12.6,11.9,-12.6,12.3,-12.2,11.5,-11.7,11.9,-11.4,12.8,-10.6],
  [11.9,-12.7,11.9,-13.5,12.6,-13.4,12,-13.9,12.3,-14.3,11.5,-13.8,12,-13.3],
  [12.7,-13.8,13.5,-13.5,15.9,-13.8,16.5,-14.3,17.8,-14.4,18,-13.8,18.4,-14.2,18.2,-14.8,19.2,-14.7,19.9,-15.4,19.6,-16.5,19,-15.6,18.2,-15.7,17.8,-15.1,17,-15.4,16.3,-15,15.7,-14.1,14.6,-14.1,14.4,-15.1,15.5,-15.8,15.1,-16.3,14.3,-15.8,13,-15.1,13.2,-14.2,12.7,-13.8],
  [13.5,-14.7,14.3,-14.1,14.1,-15.2,14.8,-15.5,14,-15.5,13.5,-14.7],
  [18.2,-15.2,19.1,-15.1,19.1,-15.6,18.3,-15.5,18.2,-15.2],
  [8,-6.1,8.4,-5.9,8.6,-6.5,8.1,-6.6,8,-6.1]
];
var spots12 = [[-18.8,15.1,.15,.1],[-15.1,15.1,.4,.2],[-17.6,12.6,.2,.35],[-17.1,12.7,.15,.3],[-17.6,11.6,.15,.3],[-13.5,13.1,.4,.4],[-10.6,11.9,.3,.3],[-9.8,11,.4,.3],[-9.5,12.3,.2,.25],[-1.9,6.5,.4,.15],[-13.9,5.8,.4,.3],[-13.6,6.1,.2,.2],[-12.7,4.9,.15,.1],[-13.1,5.4,.25,.5],[-12.7,6.5,.25,.2],[-12.7,7.1,.15,.2],[-13.5,8.1,.2,.3],[-13.1,8,.2,.4],[-12.2,7.7,.15,.2],[-12.2,8.2,.15,.1],[-9.7,7,.35,.1],[-11.5,7.4,.2,.1],[-6.1,10.2,.15,.4],[-10.2,3.3,.2,.3],[-9.9,2.6,.25,.4],[-11.9,2.5,.15,.15],[-11.4,2,.15,.2],[-8.2,1.7,.3,.1],[-7.4,2.5,.3,.1],[-6.7,2.5,.25,.12],[-3.7,2.5,.2,.12],[-3.2,2.5,.15,.3],[-4.1,2,.15,.1],[-4.1,1.3,.12,.2],[-7.3,5,.15,.35],[-9.2,5,.3,.12],[-9,4.6,.2,.1],[-8.6,6.1,.3,.3],[-8.1,3.8,.12,.12],
  [2,0,.2,.1],[2.8,0,.25,.1],[6.6,1.4,.4,.45],[5.3,-2.2,.3,.45],[2.4,-2.4,.3,.3],[3.3,-3.3,.2,.2],[6.9,-2.8,.25,.15],[6.9,-3.7,.12,.12],[1.6,-4.4,.15,.15],[12,-6.1,.25,.65],[4.1,-7.3,.12,.12],[7.2,-7,.2,.2],[6.4,-6.8,.3,.15],[6.4,-7.3,.35,.15],[9,-4.9,.3,.3],[13.4,-13.9,.3,.2],[16.3,-14.3,.25,.2],[16.8,-15.1,.25,.15],[17.9,-14.1,.3,.3],[17.9,-14.7,.3,.12],[15.1,-15.9,.12,.12],[11.8,-13.8,.25,.25],[12.2,-13.5,.2,.2],[11.8,-13,.1,.15],[11.1,-12.1,.25,.25],[10.2,-10.6,.12,.1],[10.6,-10.6,.15,.1],[13.9,-11.4,.2,.2],[3.2,-6.4,.12,.12]];

// lower row: trails of the two galaxies as x,y in kpc on the polar plane
var blackTrail3 = [[.08,.18],[-.38,.45],[-1.28,.18],[-2.34,.32],[-3.69,.05],[-5.2,-.4],[-6.55,-1.13],[-7.9,-.08],[-9.26,.89],[-10.6,2.16],[-11.67,3.21],[-11.9,3.7],[-12.27,4]];
var redTrail3 = [[-.23,-.08],[-.14,.05],[-.38,0],[-.68,-.68],[.17,-.95],[.41,-2.53],[-.38,-2.97],[-.62,-3.95],[-1.88,-5.34],[-3.09,-5.16],[-4.14,-6.53],[-5.92,-7.32],[-7.6,-7.26],[-8.57,-7.05],[-9.53,-6.13],[-11.82,-5.26],[-12.03,-3.37],[-16.04,.84],[-18.15,3.47],[-17.97,5.45],[-17.9,8.6],[-17.25,9.92],[-15.65,11.76],[-15.5,12.82]];
var blackBox3 = [-4.98, -1.1];
var redBox3 = [-13, -1.58];

var blackTrail6 = [[-.09,.08],[.13,-.3]];
var redTrail6 = [[.04,.39],[.13,.08],[-.09,-.32],[-.3,-1.03],[.98,-1.7],[.13,-3.15],[-1.06,-4.26],[-2.13,-5.91],[-3.36,-7.49],[-6.68,-9.86],[-8.98,-10.8],[-14.55,-11.36],[-21.32,-13.33],[-22.51,-11.95],[-23.36,-9.58],[-27.53,-4.1],[-28.3,-.32],[-28.09,1.54],[-27.91,3.94],[-27.45,5.52],[-27.62,6.39],[-27.96,6.9]];
var blackBox6 = [-1.09, .16];
var redBox6 = [-23.2, -6.43];

var blackTrail9 = [[1,.2],[3.06,0]];
var redTrail9 = [[-.34,.89],[-.06,.37],[.23,-.16],[.51,-.42],[-.62,-.68],[-1.76,-1.74],[-2.15,-3.21],[-4.71,-5.68],[-8.16,-5.68],[-16.04,-8.46],[-21.88,-9.1],[-24.6,-8.57],[-28.97,-7.52],[-31.8,.11],[-32.09,1.16],[-32.48,1.95],[-32.82,2.73],[-32.82,4.21]];
var blackBox9 = [-.54, 1.58];
var redBox9 = [-30.41, -4.99];

var blackTrail12 = [[.5,0],[1.77,-.2]];
var redTrail12 = [[.41,.26],[.95,-.2],[.41,-.53],[-.61,-1.97],[-3.68,-5.65],[-5.04,-7.76],[-5.04,-7.9],[-18.19,-11.24],[-25,-13.81],[-27.93,-14.6],[-30.93,-13.54],[-31.61,-11.05],[-33.38,-8.94],[-36.04,-4.47],[-40.12,5.06],[-40.46,5.72],[-40.12,5.85]];
var blackBox12 = [-.65, -.59];
var redBox12 = [-39.1, -1.78];

var heatSets = [heat3, heat6, heat9, heat12];
var heatTops = [heatTop3, heatTop6, heatTop9, heatTop12];
var contourSets = [contour3, contour6, contour9, contour12];
var spotSets = [spots3, spots6, spots9, spots12];
var trailSets = [[blackTrail3, redTrail3, blackBox3, redBox3], [blackTrail6, redTrail6, blackBox6, redBox6],
                 [blackTrail9, redTrail9, blackBox9, redBox9], [blackTrail12, redTrail12, blackBox12, redBox12]];

// look of the page
var serif = "'Liberation Serif', serif";
var viridis = ["#000000", "#440f5f", "#482475", "#414487", "#355f8d", "#2a788e", "#21918c", "#22a884", "#44bf70", "#7ad151", "#bddf26", "#fde725"];
var axesLeft = [159, 951, 1743, 2535];
var axesSize = 720;
var boxRects = [[711.5, 19, 145, 73], [1503, 19, 145, 73], [2295, 19, 145, 73], [3073, 19, 167, 73]];

function makeCanvas(left, top, width, height) {
  var c = document.createElement("canvas");
  c.width = width;
  c.height = height;
  c.style.left = left + "px";
  c.style.top = top + "px";
  c.style.width = width + "px";
  c.style.height = height + "px";
  document.body.appendChild(c);
  return c;
}

function parseRow(row) {
  var parts = row.split("|");
  var col = +parts[0];
  var cells = [];
  parts[1].split(" ").forEach(function (run) {
    var r = run.split("*");
    var level = parseInt(r[0], 16);
    for (var i = 0; i < +r[1]; i++) {
      if (level > 0 && col < 80) cells.push([col, level]);
      col++;
    }
  });
  return cells;
}

function minusLabel(v) {
  return v < 0 ? "\u2212" + Math.abs(v) : String(v);
}

// density cells are placed with the chart's scales
var heatPlugin = {
  id: "heat",
  beforeDatasetsDraw: function (chart, args, opts) {
    var ctx = chart.ctx, a = chart.chartArea, xs = chart.scales.x, ys = chart.scales.y;
    ctx.save();
    ctx.fillStyle = "#000";
    ctx.fillRect(a.left, a.top, a.width, a.height);
    opts.rows.forEach(function (row, k) {
      var zTop = opts.top - k * 0.5;
      parseRow(row).forEach(function (cell) {
        var x0 = Math.round(xs.getPixelForValue(-20 + cell[0] * 0.5));
        var x1 = Math.round(xs.getPixelForValue(-20 + (cell[0] + 1) * 0.5));
        var y0 = Math.round(ys.getPixelForValue(zTop));
        var y1 = Math.round(ys.getPixelForValue(zTop - 0.5));
        ctx.fillStyle = viridis[cell[1]];
        ctx.fillRect(x0, y0, x1 - x0, y1 - y0);
      });
    });
    ctx.restore();
  },
  afterDatasetsDraw: function (chart, args, opts) {
    var ctx = chart.ctx, a = chart.chartArea, b = opts.box;
    ctx.save();
    ctx.strokeStyle = "#444";
    ctx.lineWidth = 1;
    ctx.strokeRect(a.left, a.top, a.width, a.height);
    // the "n Gyr" box, its rectangle is given in page pixels
    var ox = chart.canvas.offsetLeft;
    ctx.fillStyle = "#e5e5e5";
    ctx.fillRect(b[0] - ox, b[1], b[2], b[3]);
    ctx.fillStyle = "#000";
    ctx.font = "50px " + serif;
    ctx.textAlign = "center";
    ctx.textBaseline = "middle";
    ctx.fillText(opts.name, b[0] - ox + b[2] / 2, b[1] + b[3] / 2 + 1);
    ctx.restore();
  }
};

function contourLine(flat) {
  var pts = [];
  for (var k = 0; k < flat.length; k += 2) pts.push({ x: flat[k], y: flat[k + 1] });
  return { data: pts, showLine: true, borderColor: "#ff0000", borderWidth: 3.2, pointRadius: 0, tension: 0, fill: false };
}

function spotLine(s) {
  return contourLine([s[0] - s[2], s[1], s[0], s[1] + s[3], s[0] + s[2], s[1], s[0], s[1] - s[3], s[0] - s[2], s[1]]);
}

function drawHeatPanel(i) {
  var leftRoom = i === 0 ? 159 : 72;
  var canvas = makeCanvas(axesLeft[i] - leftRoom, 0, leftRoom + axesSize + 6, 850);
  var datasets = contourSets[i].map(contourLine).concat(spotSets[i].map(spotLine));
  new Chart(canvas, {
    type: "scatter",
    data: { datasets: datasets },
    plugins: [heatPlugin],
    options: {
      responsive: false,
      animation: false,
      devicePixelRatio: 1,
      events: [],
      layout: { autoPadding: false, padding: { top: 7, right: 6, left: 0, bottom: 0 } },
      plugins: {
        legend: { display: false },
        tooltip: { enabled: false },
        heat: { rows: heatSets[i], top: heatTops[i], box: boxRects[i], name: panelNames[i] }
      },
      scales: {
        x: {
          type: "linear", min: -20, max: 20,
          grid: { display: false, drawTicks: false },
          border: { display: false },
          ticks: { color: "#000", font: { family: serif, size: 47 }, padding: 0, maxRotation: 0, autoSkip: false, callback: minusLabel },
          title: { display: true, text: "x (kpc)", color: "#000", font: { family: serif, size: 58 }, padding: { top: 0, bottom: 3 } },
          afterBuildTicks: function (s) { s.ticks = xTicks.map(function (v) { return { value: v }; }); },
          afterFit: function (s) { s.height = 123; s.paddingLeft = 0; s.paddingRight = 0; }
        },
        y: {
          type: "linear", min: -20, max: 20,
          grid: { display: false, drawTicks: false },
          border: { display: false },
          ticks: { color: "#000", font: { family: serif, size: 47 }, padding: 9, autoSkip: false, callback: minusLabel },
          title: { display: i === 0, text: "z (kpc)", color: "#000", font: { family: serif, size: 58 }, padding: { top: 1, bottom: 0 } },
          afterBuildTicks: function (s) { s.ticks = zTicks.map(function (v) { return { value: v }; }); },
          afterFit: function (s) { s.width = leftRoom; s.paddingTop = 0; s.paddingBottom = 0; }
        }
      }
    }
  });
}

var polarPlugin = {
  id: "polarRings",
  beforeDatasetsDraw: function (chart, args, opts) {
    var ctx = chart.ctx, xs = chart.scales.x, ys = chart.scales.y;
    var cx = xs.getPixelForValue(0), cy = ys.getPixelForValue(0);
    ctx.save();
    for (var r = 10; r <= opts.rMax; r += 10) {
      ctx.beginPath();
      ctx.arc(cx, cy, xs.getPixelForValue(r) - cx, 0, Math.PI * 2);
      ctx.strokeStyle = r === opts.rMax ? "#333" : "#bdbdbd";
      ctx.lineWidth = 1;
      ctx.stroke();
    }
    ctx.restore();
  },
  beforeDatasetDraw: function (chart) {
    // marks are cut at the outer ring
    var ctx = chart.ctx, xs = chart.scales.x, ys = chart.scales.y;
    var cx = xs.getPixelForValue(0), cy = ys.getPixelForValue(0);
    ctx.save();
    ctx.beginPath();
    ctx.arc(cx, cy, chart.chartArea.width / 2, 0, Math.PI * 2);
    ctx.clip();
  },
  afterDatasetDraw: function (chart, args, opts) {
    var ctx = chart.ctx;
    ctx.restore();
    if (args.index !== 2) return;
    // ring labels go along the 22.5 degree line, above the black square and below the red marks
    var xs = chart.scales.x, ys = chart.scales.y;
    var ang = 22.5 * Math.PI / 180;
    ctx.save();
    ctx.fillStyle = "#000";
    ctx.font = "47px " + serif;
    ctx.textAlign = "left";
    ctx.textBaseline = "middle";
    for (var r = 0; r <= opts.rMax; r += 10) {
      ctx.fillText(String(r), xs.getPixelForValue(r * Math.cos(ang)), ys.getPixelForValue(r * Math.sin(ang)) - 31);
    }
    ctx.restore();
  }
};

function trailSet(points, colour) {
  return {
    data: points.map(function (p) { return { x: p[0], y: p[1] }; }),
    showLine: true, borderColor: colour, borderWidth: 5.5, tension: 0, fill: false,
    pointRadius: 20, pointBackgroundColor: colour, pointBorderColor: "#000", pointBorderWidth: 1
  };
}

function boxSet(point, colour) {
  return {
    data: [{ x: point[0], y: point[1] }],
    pointStyle: "rect", pointRadius: 49.5, pointBackgroundColor: "#ffffff", pointBorderColor: colour, pointBorderWidth: 10
  };
}

function drawPolarPanel(i) {
  var rMax = rMaxes[i], sets = trailSets[i];
  var canvas = makeCanvas(axesLeft[i] - 70, 820, 70 + axesSize + 50, 750);
  new Chart(canvas, {
    type: "scatter",
    // first dataset is painted last
    data: { datasets: [boxSet(sets[3], "#ff0000"), trailSet(sets[1], "#ff0000"), boxSet(sets[2], "#000000"), trailSet(sets[0], "#000000")] },
    plugins: [polarPlugin],
    options: {
      responsive: false,
      animation: false,
      devicePixelRatio: 1,
      events: [],
      layout: { autoPadding: false, padding: { left: 70, right: 50, top: 15, bottom: 15 } },
      plugins: { legend: { display: false }, tooltip: { enabled: false }, polarRings: { rMax: rMax } },
      scales: {
        x: { type: "linear", min: -rMax, max: rMax, display: false },
        y: { type: "linear", min: -rMax, max: rMax, display: false }
      }
    }
  });
}

for (var p = 0; p < 4; p++) {
  drawHeatPanel(p);
  drawPolarPanel(p);
}
</script>
</body>
</html>
